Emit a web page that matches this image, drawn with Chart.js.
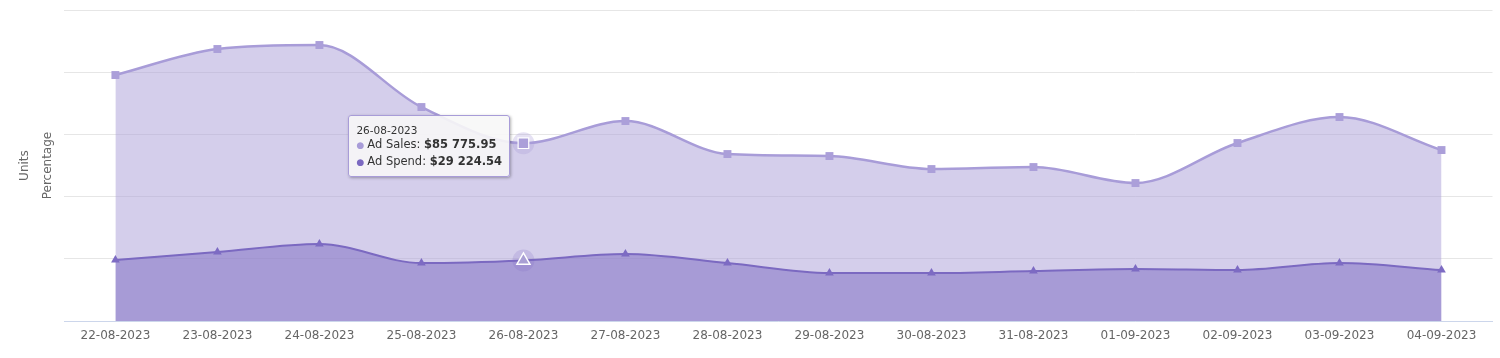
<!DOCTYPE html>
<html>
<head>
<meta charset="utf-8">
<script src="https://cdn.jsdelivr.net/npm/chart.js@4.4.0/dist/chart.umd.min.js"></script>
<style>
  body { margin: 0; background: #fff; }
  #wrap { position: relative; width: 1500px; height: 358px; }
  #tip {
    position: absolute; display: none; white-space: nowrap;
    background: rgba(247,247,247,0.9); border: 1px solid #a89cd8; border-radius: 3px;
    box-shadow: 1px 1px 3px rgba(0,0,0,0.3);
    padding: 7px 7px 6px 7px; font-family: "DejaVu Sans", sans-serif; color: #333;
  }
  #tip .t { font-size: 10.5px; line-height: 14px; }
  #tip .l { font-size: 11.5px; line-height: 15.5px; }
  #tip .d { font-size: 9px; margin-right: 3px; }
</style>
</head>
<body>
<div id="wrap">
  <canvas id="adChart" width="1500" height="358"></canvas>
  <div id="tip"></div>
</div>
<script>
// chart data
var dates = ['22-08-2023', '23-08-2023', '24-08-2023', '25-08-2023', '26-08-2023', '27-08-2023', '28-08-2023',
  '29-08-2023', '30-08-2023', '31-08-2023', '01-09-2023', '02-09-2023', '03-09-2023', '04-09-2023'];
var adSales = [118650, 131190, 133120, 103215, 85775.95, 96463, 80547, 79582, 73312, 74277, 66560, 85852, 98392, 82476];
var adSpend = [29421, 33280, 37138, 27974, 29224.54, 32315, 27974, 23151, 23151, 24116, 25080, 24598, 27974, 24598];
var hoverIndex = 4;

Chart.defaults.font.family = '"DejaVu Sans", sans-serif';

function money(v) {
  var parts = v.toFixed(2).split('.');
  return '$' + parts[0].replace(/\B(?=(\d{3})+(?!\d))/g, ' ') + '.' + parts[1];
}

// halo behind hovered points
var haloPlugin = {
  id: 'halo',
  beforeDatasetDraw: function(chart, args) {
    var active = chart.getActiveElements();
    var ctx = chart.ctx;
    active.forEach(function(a) {
      if (a.datasetIndex !== args.index) return;
      ctx.save();
      ctx.beginPath();
      ctx.arc(a.element.x, a.element.y, 11, 0, Math.PI * 2);
      ctx.fillStyle = a.datasetIndex === 0 ? 'rgba(168,156,216,0.3)' : 'rgba(123,105,193,0.2)';
      ctx.fill();
      ctx.restore();
    });
  }
};

function externalTip(context) {
  var tip = document.getElementById('tip');
  var tooltip = context.tooltip;
  if (tooltip.opacity === 0 || !tooltip.dataPoints) { tip.style.display = 'none'; return; }
  var points = tooltip.dataPoints.slice().sort(function(a, b) { return a.datasetIndex - b.datasetIndex; });
  var html = '<div class="t">' + points[0].label + '</div>';
  points.forEach(function(p) {
    html += '<div class="l"><span class="d" style="color:' + p.dataset.borderColor + '">\u25CF</span>' +
      p.dataset.label + ': <b>' + money(p.raw) + '</b></div>';
  });
  tip.innerHTML = html;
  tip.style.display = 'block';
  var el = points[0].element;
  tip.style.left = (el.x - 13 - tip.offsetWidth) + 'px';
  tip.style.top = (el.y - 28) + 'px';
}

var chartConfig = {
  type: 'line',
  data: {
    labels: dates,
    datasets: [{
      label: 'Ad Sales',
      data: adSales,
      order: 2,
      yAxisID: 'y',
      borderColor: '#a89cd8',
      borderWidth: 2.5,
      backgroundColor: 'rgba(170,158,216,0.5)',
      fill: 'origin',
      cubicInterpolationMode: 'monotone',
      pointStyle: 'rect',
      pointRadius: 5.6,
      pointBackgroundColor: '#ab9fd9',
      pointBorderWidth: 0,
      pointHoverRadius: 7.5,
      pointHoverBackgroundColor: '#ab9fd9',
      pointHoverBorderColor: '#ffffff',
      pointHoverBorderWidth: 1.2
    }, {
      label: 'Ad Spend',
      data: adSpend,
      order: 1,
      yAxisID: 'y',
      borderColor: '#7b69c1',
      borderWidth: 2,
      backgroundColor: 'rgba(123,105,193,0.5)',
      fill: 'origin',
      cubicInterpolationMode: 'monotone',
      pointStyle: 'triangle',
      pointRadius: 5,
      pointBackgroundColor: '#7d6bc3',
      pointBorderWidth: 0,
      pointHoverRadius: 7.5,
      pointHoverBackgroundColor: '#a99fd4',
      pointHoverBorderColor: '#ffffff',
      pointHoverBorderWidth: 1.5
    }]
  },
  options: {
    responsive: false,
    animation: false,
    events: [],
    layout: { padding: { top: 10, right: 1, bottom: 6.5, left: 0 } },
    interaction: { mode: 'index', intersect: false },
    plugins: {
      legend: { display: false },
      tooltip: { enabled: false, external: externalTip }
    },
    scales: {
      x: {
        offset: true,
        grid: { display: false, drawTicks: false },
        border: { color: '#ccd6eb', width: 1 },
        ticks: { color: '#666', font: { size: 12 }, padding: 8, maxRotation: 0, autoSkip: false },
        afterFit: function(scale) {
          // labels fit inside the offset, no extra side padding
          scale.paddingLeft = 0;
          scale.paddingRight = 0;
        }
      },
      y: {
        position: 'left',
        weight: 0,
        min: 0,
        max: 150000,
        ticks: { display: false, stepSize: 30000 },
        grid: { color: '#e6e6e6', drawTicks: false },
        border: { display: false },
        title: { display: true, text: 'Percentage', color: '#666', font: { size: 12 }, padding: { top: 8.4, bottom: 9.2 } }
      },
      yUnits: {
        position: 'left',
        weight: 1,
        ticks: { display: false },
        grid: { display: false, drawTicks: false },
        border: { display: false },
        title: { display: true, text: 'Units', color: '#666', font: { size: 12 }, padding: { top: 18, bottom: 0 } }
      }
    }
  },
  plugins: [haloPlugin]
};

var ctx = document.getElementById('adChart').getContext('2d');
var adChart = new Chart(ctx, chartConfig);

// show the hovered state for 26-08-2023
var active = [{ datasetIndex: 0, index: hoverIndex }, { datasetIndex: 1, index: hoverIndex }];
adChart.setActiveElements(active);
var pt = adChart.getDatasetMeta(0).data[hoverIndex];
adChart.tooltip.setActiveElements(active, { x: pt.x, y: pt.y });
adChart.update();
</script>
</body>
</html>
